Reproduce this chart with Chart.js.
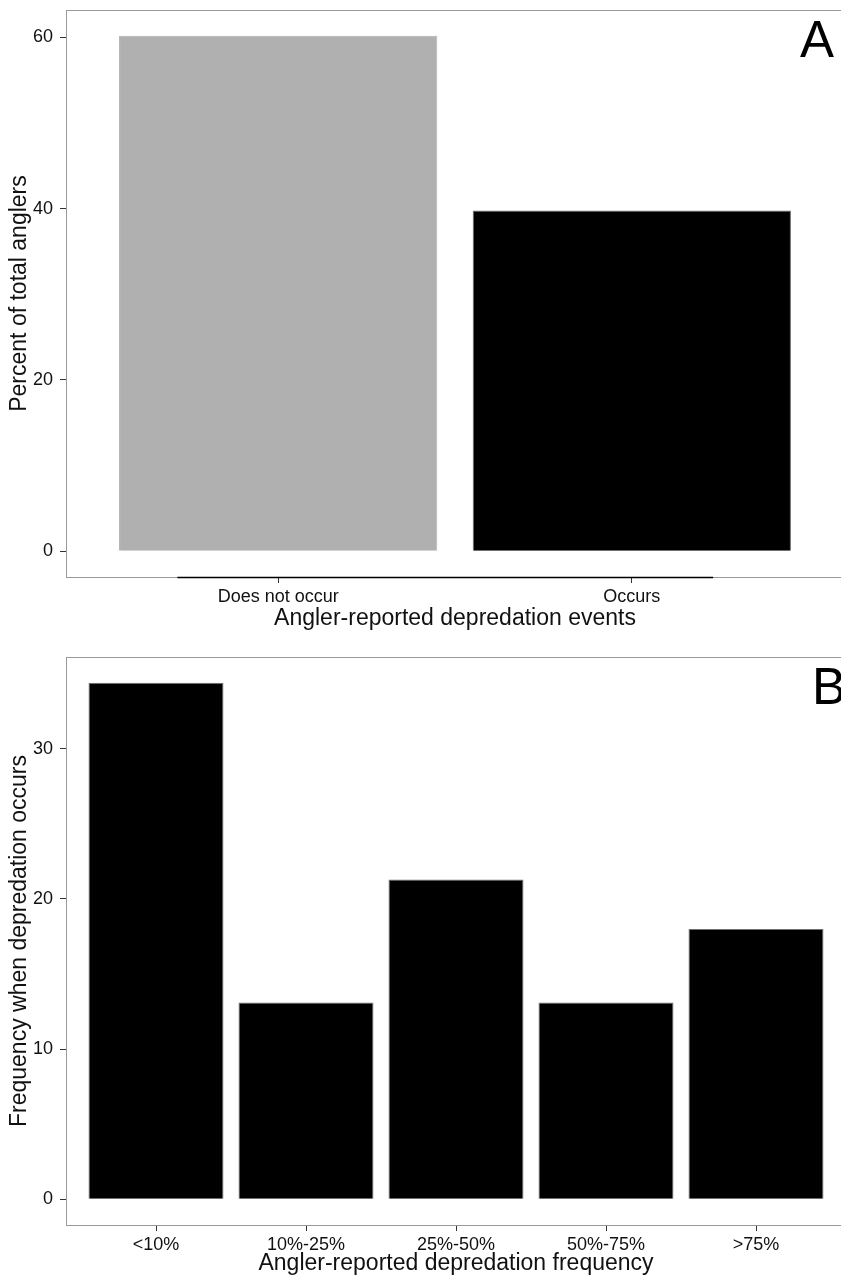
<!DOCTYPE html>
<html>
<head>
<meta charset="utf-8">
<script src="https://cdn.jsdelivr.net/npm/chart.js@4.4.0/dist/chart.umd.min.js"></script>
<style>
  html, body { margin: 0; padding: 0; background: #fff; overflow: hidden; width: 841px; height: 1277px; }
  .panel { position: absolute; left: 0; }
  #wrapA { top: 0; }
  #wrapB { top: 640px; }
</style>
</head>
<body>
<div class="panel" id="wrapA"><canvas id="chartA" width="860" height="640"></canvas></div>
<div class="panel" id="wrapB"><canvas id="chartB" width="860" height="637"></canvas></div>
<script>
// panel A data
var eventCategories = ['Does not occur', 'Occurs'];
var eventPercents = [60.2, 39.8];
var eventColors = ['#b0b0b0', '#000000'];
var eventTicks = [0, 20, 40, 60];

// panel B data
var freqCategories = ['<10%', '10%-25%', '25%-50%', '50%-75%', '>75%'];
var freqValues = [34.4, 13.1, 21.3, 13.1, 18.0];
var freqTicks = [0, 10, 20, 30];

// stray axis segment seen under panel A (in category units)
var axisSegmentA = [0.715, 2.23];

Chart.defaults.font.family = '"Liberation Sans", Arial, Helvetica, sans-serif';
Chart.defaults.color = '#111';

// box round the plot area + panel letter + extra axis segment
var panelPlugin = {
  id: 'panelDeco',
  afterDraw: function(chart, args, opts) {
    var ctx = chart.ctx;
    var a = chart.chartArea;
    ctx.save();
    ctx.strokeStyle = '#9a9a9a';
    ctx.lineWidth = 1;
    ctx.strokeRect(Math.round(a.left) + 0.5, Math.round(a.top) + 0.5,
                   Math.round(a.right - a.left), Math.round(a.bottom - a.top));
    if (opts.segment) {
      var xs = chart.scales.x;
      ctx.strokeStyle = '#000';
      ctx.lineWidth = 1.5;
      ctx.beginPath();
      ctx.moveTo(xs.getPixelForValue(opts.segment[0]), Math.round(a.bottom) + 0.5);
      ctx.lineTo(xs.getPixelForValue(opts.segment[1]), Math.round(a.bottom) + 0.5);
      ctx.stroke();
    }
    ctx.fillStyle = '#000';
    ctx.font = '51px "Liberation Sans", Arial, sans-serif';
    ctx.textAlign = 'right';
    ctx.textBaseline = 'alphabetic';
    ctx.fillText(opts.letter, a.right - opts.dx, a.top + opts.dy);
    ctx.restore();
  }
};

function noPad(scale) {
  scale.paddingTop = 0;
  scale.paddingBottom = 0;
  scale.paddingLeft = 0;
  scale.paddingRight = 0;
}

function makeBarChart(id, cats, vals, colors, ticks, yTitle, xTitle, layout) {
  var top = Math.max.apply(null, vals);
  var pad = top * 0.05;
  var ctx = document.getElementById(id).getContext('2d');
  return new Chart(ctx, {
    type: 'bar',
    data: {
      datasets: [{
        data: vals.map(function(v, i) { return { x: i + 1, y: v }; }),
        backgroundColor: colors,
        borderColor: colors.map(function(c) { return c === '#000000' ? '#707070' : c; }),
        borderWidth: 1,
        categoryPercentage: 0.9,
        barPercentage: 1.0
      }]
    },
    options: {
      responsive: false,
      animation: false,
      devicePixelRatio: 1,
      layout: { padding: layout.padding },
      plugins: {
        legend: { display: false },
        tooltip: { enabled: false },
        panelDeco: { letter: layout.letter, dx: layout.dx, dy: 47, segment: layout.segment }
      },
      scales: {
        x: {
          type: 'linear',
          offset: false,
          min: 0.4,
          max: cats.length + 0.6,
          afterBuildTicks: function(scale) {
            scale.ticks = cats.map(function(c, i) { return { value: i + 1 }; });
          },
          afterFit: function(scale) { scale.height = layout.xHeight; noPad(scale); },
          ticks: {
            autoSkip: false,
            maxRotation: 0,
            padding: 3,
            font: { size: 18 },
            color: '#111',
            callback: function(v) { return cats[v - 1]; }
          },
          grid: { offset: false, drawOnChartArea: false, drawTicks: true, tickLength: 6, tickColor: '#333', tickWidth: 1 },
          border: { display: false },
          title: { display: true, text: xTitle, font: { size: 23 }, color: '#111', padding: { top: 0, bottom: layout.xTitlePad } }
        },
        y: {
          min: -pad,
          max: top + pad,
          afterBuildTicks: function(scale) {
            scale.ticks = ticks.map(function(t) { return { value: t }; });
          },
          afterFit: function(scale) { scale.width = 66; noPad(scale); },
          ticks: { padding: 7, font: { size: 18 }, color: '#111' },
          grid: { drawOnChartArea: false, drawTicks: true, tickLength: 6, tickColor: '#333', tickWidth: 1 },
          border: { display: false },
          title: { display: true, text: yTitle, font: { size: 23 }, color: '#111', padding: { top: 6, bottom: 0 } }
        }
      }
    },
    plugins: [panelPlugin]
  });
}

makeBarChart('chartA', eventCategories, eventPercents, eventColors, eventTicks,
  'Percent of total anglers', 'Angler-reported depredation events',
  { padding: { top: 10, right: 16, left: 0, bottom: 0 }, xHeight: 63, xTitlePad: 8, letter: 'A', dx: 10, segment: axisSegmentA });

makeBarChart('chartB', freqCategories, freqValues, freqCategories.map(function() { return '#000000'; }), freqTicks,
  'Frequency when depredation occurs', 'Angler-reported depredation frequency',
  { padding: { top: 17, right: 14, left: 0, bottom: 0 }, xHeight: 52, xTitlePad: 0, letter: 'B', dx: 0 });
</script>
</body>
</html>
